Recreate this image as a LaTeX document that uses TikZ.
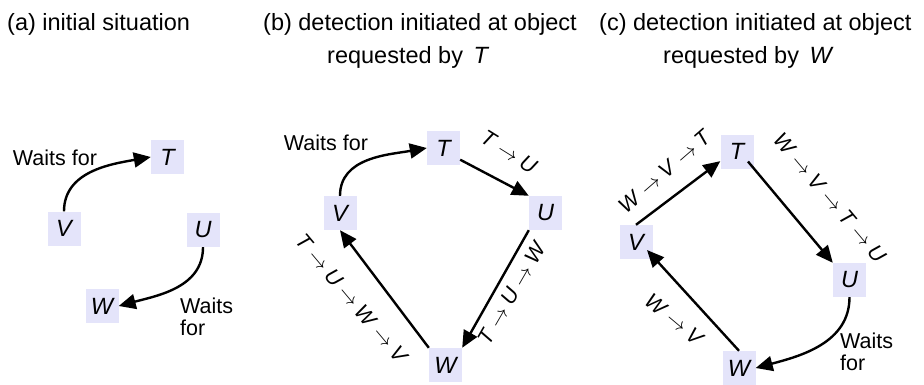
\documentclass[tikz,border=0pt]{standalone}
\usepackage{fontspec}
\setmainfont{Liberation Sans}
\usetikzlibrary{arrows.meta}
\definecolor{boxfill}{RGB}{228,228,250}
\newcommand\myto{\hspace{0.25em}$\rightarrow$\hspace{0.25em}}
\begin{document}
\begin{tikzpicture}[x=1pt,y=1pt,
  obj/.style={fill=boxfill, minimum width=33pt, minimum height=34pt, inner sep=0pt, font=\fontsize{23.5}{28}\selectfont\itshape},
  lbl/.style={font=\fontsize{21.5}{22}\selectfont, inner sep=0pt},
  ttl/.style={font=\fontsize{23.5}{28}\selectfont, inner sep=0pt, anchor=base west},
  link/.style={line width=2.4pt, -{Triangle[length=17pt,width=15pt]}},
]
\useasboundingbox (0,0) rectangle (924,384);
% titles
\node[ttl] (ta) at (7,354) {(a) initial situation};
\node[ttl] (tb1) at (263,354) {(b) detection initiated at object};
\node[ttl] (tb2) at (327,321) {requested by\hspace{0.45em}\textit{T}};
\node[ttl] (tc1) at (599,354) {(c) detection initiated at object};
\node[ttl] (tc2) at (663,321) {requested by\hspace{0.45em}\textit{W}};
% panel (a)
\node[obj] (aT) at (167.5,227) {T};
\node[obj] (aV) at (64,155.5) {V};
\node[obj] (aU) at (203,154) {U};
\node[obj] (aW) at (102,78) {W};
\draw[link] (aV.north) to[out=90,in=190] (aT.west);
\draw[link] (aU.south) to[out=-90,in=15] (aW.east);
\node[lbl] (aL1) at (55,226) {Waits for};
\node[lbl, anchor=west, align=left] (aL2) at (180,67) {Waits\\for};
% panel (b)
\node[obj] (bT) at (443.5,236) {T};
\node[obj] (bU) at (545.5,171) {U};
\node[obj] (bV) at (340,171) {V};
\node[obj] (bW) at (445.5,19) {W};
\draw[link] (bV.north) to[out=90,in=190] (bT.west);
\draw[link] (bT.-35) -- (bU.north west);
\draw[link] (bU.south west) -- (bW.north east);
\draw[link] (bW.north west) -- (bV.south);
\node[lbl] (bL1) at (326,241) {Waits for};
\node[lbl, rotate=-32] (bL2) at (509,232) {\textit{T}\myto\textit{U}};
\node[lbl, rotate=60] (bL3) at (512,91) {\textit{T}\myto\textit{U}\myto\textit{W}};
\node[lbl, rotate=-50] (bL4) at (352,85) {\textit{T}\myto\textit{U}\myto\textit{W}\myto\textit{V}};
% panel (c)
\node[obj] (cT) at (737,232.5) {T};
\node[obj] (cV) at (636,142) {V};
\node[obj] (cU) at (849.5,104) {U};
\node[obj] (cW) at (739,16) {W};
\draw[link] (cV.north) -- (cT.210);
\draw[link] ([shift={(11,-10)}]cT.center) -- (cU.north west);
\draw[link] (cW.north) -- ([shift={(11,-8)}]cV.center);
\draw[link] (cU.south) to[out=-90,in=15] (cW.east);
\node[lbl, rotate=41] (cL1) at (665,213) {\textit{W}\myto\textit{V}\myto\textit{T}};
\node[lbl, rotate=-50] (cL2) at (830,186) {\textit{W}\myto\textit{V}\myto\textit{T}\myto\textit{U}};
\node[lbl, rotate=-40] (cL3) at (675,64) {\textit{W}\myto\textit{V}};
\node[lbl, anchor=west, align=left] (cL4) at (840,32) {Waits\\for};
\end{tikzpicture}
\end{document}
